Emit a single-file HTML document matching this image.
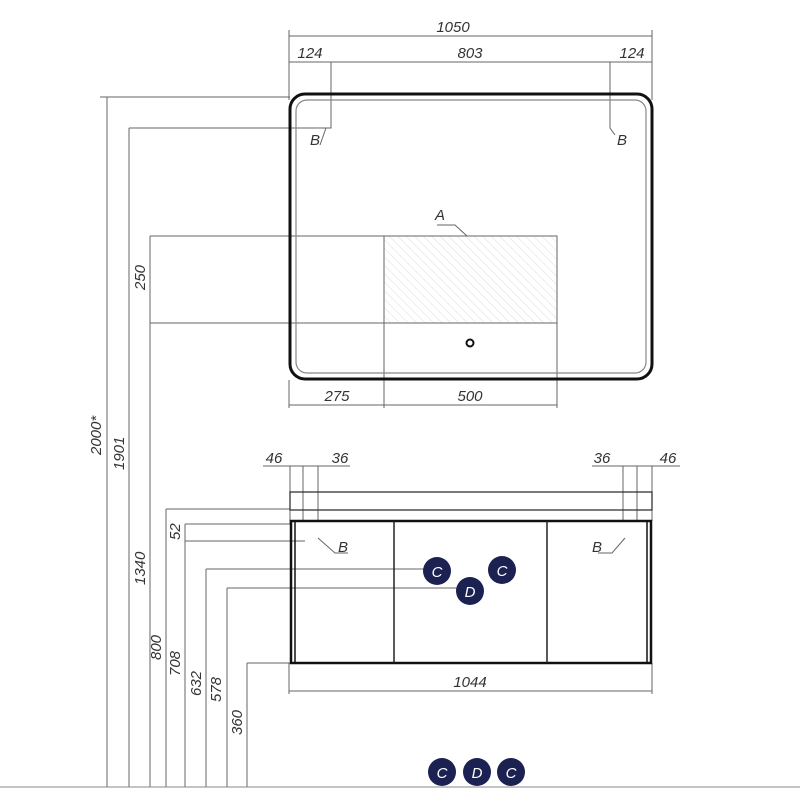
<!DOCTYPE html>
<html><head><meta charset="utf-8"><style>
html,body{margin:0;padding:0;background:#fff;}
svg text{font-family:"Liberation Sans",sans-serif;font-style:italic;fill:#333;font-size:15px;}
.c text{fill:#fff;font-size:15px;}
</style></head><body>
<svg width="800" height="800" viewBox="0 0 800 800" xmlns="http://www.w3.org/2000/svg">
<defs><pattern id="h" width="6" height="6" patternUnits="userSpaceOnUse" patternTransform="rotate(-45)"><line x1="0" y1="0" x2="0" y2="6" stroke="#ddd" stroke-width="1"/></pattern></defs>
<g stroke="#666" stroke-width="1" fill="none">
<!-- top dims -->
<line x1="289" y1="36" x2="652" y2="36"/>
<line x1="289" y1="30" x2="289" y2="100"/><line x1="652" y1="30" x2="652" y2="100"/>
<line x1="289" y1="62" x2="652" y2="62"/>
<polyline points="331,62 331,128 326,128"/><polyline points="610,62 610,128 615,135"/>
<line x1="326" y1="128" x2="320" y2="145"/>
<!-- left vertical lines -->
<line x1="107" y1="97" x2="107" y2="787"/><line x1="100" y1="97" x2="290" y2="97"/>
<line x1="129" y1="128" x2="129" y2="787"/><line x1="129" y1="128" x2="331" y2="128"/>
<line x1="150" y1="236" x2="150" y2="787"/><line x1="150" y1="236" x2="557" y2="236"/>
<line x1="150" y1="323" x2="557" y2="323"/>
<line x1="166" y1="509" x2="166" y2="787"/><line x1="166" y1="509" x2="290" y2="509"/>
<line x1="185" y1="524" x2="185" y2="787"/><line x1="185" y1="524" x2="292" y2="524"/>
<line x1="185" y1="541" x2="305" y2="541"/>
<line x1="206" y1="569" x2="206" y2="787"/><line x1="206" y1="569" x2="425" y2="569"/>
<line x1="227" y1="588" x2="227" y2="787"/><line x1="227" y1="588" x2="458" y2="588"/>
<line x1="247" y1="663" x2="247" y2="787"/><line x1="247" y1="663" x2="292" y2="663"/>
<line x1="0" y1="787" x2="800" y2="787" stroke="#888"/>
<!-- A region -->
<rect x="384" y="236" width="173" height="87" fill="url(#h)" stroke="#666"/>
<line x1="384" y1="236" x2="384" y2="408"/><line x1="557" y1="236" x2="557" y2="408"/>
<line x1="557" y1="323" x2="557" y2="380"/>
<polyline points="467,236 455,225 437,225"/>
<line x1="289" y1="380" x2="289" y2="408"/>
<line x1="289" y1="405" x2="557" y2="405"/>
<!-- cabinet dims -->
<line x1="263" y1="466" x2="350" y2="466"/>
<line x1="290" y1="466" x2="290" y2="525"/><line x1="303" y1="466" x2="303" y2="521"/><line x1="318" y1="466" x2="318" y2="521"/>
<line x1="592" y1="466" x2="680" y2="466"/>
<line x1="623" y1="466" x2="623" y2="521"/><line x1="637" y1="466" x2="637" y2="521"/><line x1="652" y1="466" x2="652" y2="521"/>
<line x1="289" y1="663" x2="289" y2="694"/><line x1="652" y1="663" x2="652" y2="694"/>
<line x1="289" y1="691" x2="652" y2="691"/>
<polyline points="318,538 335,553 348,553"/>
<polyline points="625,538 612,553 598,553"/>
</g>
<!-- mirror -->
<rect x="290" y="94" width="362" height="285" rx="15" fill="none" stroke="#111" stroke-width="3"/>
<rect x="296" y="100" width="350" height="273" rx="11" fill="none" stroke="#888" stroke-width="1.2"/>
<circle cx="470" cy="343" r="3.5" fill="none" stroke="#111" stroke-width="2"/>
<!-- cabinet -->
<rect x="290" y="492" width="362" height="18" fill="none" stroke="#333" stroke-width="1.3"/>
<rect x="291" y="521" width="360" height="142" fill="none" stroke="#111" stroke-width="2.5"/>
<line x1="295" y1="521" x2="295" y2="663" stroke="#111" stroke-width="1.5"/>
<line x1="647" y1="521" x2="647" y2="663" stroke="#111" stroke-width="1.5"/>
<line x1="394" y1="521" x2="394" y2="663" stroke="#222" stroke-width="1.5"/>
<line x1="547" y1="521" x2="547" y2="663" stroke="#222" stroke-width="1.5"/>
<!-- labels -->
<text x="453" y="32" text-anchor="middle">1050</text>
<text x="310" y="58" text-anchor="middle">124</text>
<text x="470" y="58" text-anchor="middle">803</text>
<text x="632" y="58" text-anchor="middle">124</text>
<text x="310" y="145">B</text><text x="617" y="145">B</text>
<text x="435" y="220">A</text>
<text x="337" y="401" text-anchor="middle">275</text>
<text x="470" y="401" text-anchor="middle">500</text>
<text x="274" y="463" text-anchor="middle">46</text><text x="340" y="463" text-anchor="middle">36</text>
<text x="602" y="463" text-anchor="middle">36</text><text x="668" y="463" text-anchor="middle">46</text>
<text x="338" y="552">B</text><text x="592" y="552">B</text>
<text x="470" y="687" text-anchor="middle">1044</text>
<g>
<text transform="translate(101,455) rotate(-90)">2000*</text>
<text transform="translate(124,470) rotate(-90)">1901</text>
<text transform="translate(145,585) rotate(-90)">1340</text>
<text transform="translate(145,290) rotate(-90)">250</text>
<text transform="translate(161,660) rotate(-90)">800</text>
<text transform="translate(180,676) rotate(-90)">708</text>
<text transform="translate(180,540) rotate(-90)">52</text>
<text transform="translate(201,696) rotate(-90)">632</text>
<text transform="translate(221,702) rotate(-90)">578</text>
<text transform="translate(242,735) rotate(-90)">360</text>
</g>
<g class="c" fill="#1b2150">
<circle cx="437" cy="571" r="14"/><circle cx="502" cy="570" r="14"/><circle cx="470" cy="591" r="14"/>
<circle cx="442" cy="772" r="14"/><circle cx="477" cy="772" r="14"/><circle cx="511" cy="772" r="14"/>
<text x="437" y="577" text-anchor="middle">C</text><text x="502" y="576" text-anchor="middle">C</text><text x="470" y="597" text-anchor="middle">D</text>
<text x="442" y="778" text-anchor="middle">C</text><text x="477" y="778" text-anchor="middle">D</text><text x="511" y="778" text-anchor="middle">C</text>
</g>
</svg>
</body></html>
